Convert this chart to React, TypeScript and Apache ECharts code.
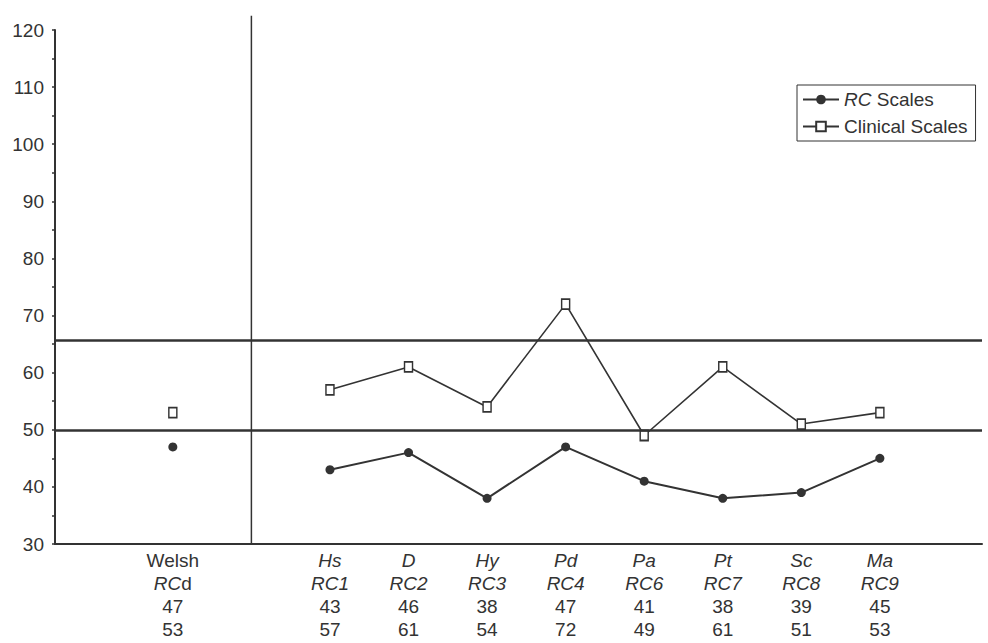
import React, { useEffect, useRef } from "react";
import * as echarts from "echarts";

// ---- data ----
const scaleNames = ["Welsh", "Hs", "D", "Hy", "Pd", "Pa", "Pt", "Sc", "Ma"];
const rcCodes = ["RCd", "RC1", "RC2", "RC3", "RC4", "RC6", "RC7", "RC8", "RC9"];
const rcScores = [47, 43, 46, 38, 47, 41, 38, 39, 45];
const clinicalScores = [53, 57, 61, 54, 72, 49, 61, 51, 53];
const yTickValues = [30, 40, 50, 60, 70, 80, 90, 100, 110, 120];
const cutoffLines = [50, 65.7];
const seriesNames = ["RC Scales", "Clinical Scales"];

// slot on the x value axis: Welsh sits left of the divider (0), the rest at 1..8
const slotOf = (i: number) => (i === 0 ? -1 : i);
const slots = scaleNames.map((_, i) => slotOf(i));

const INK = "#333";
const FONT = "Liberation Sans, Arial, sans-serif";

function buildSeriesData(values: number[]) {
  const out: any[] = [];
  values.forEach((v, i) => {
    out.push([slotOf(i), v]);
    if (i === 0) out.push([0, "-"]);
  });
  return out;
}

function labelFor(value: number) {
  const i = slots.indexOf(value);
  if (i < 0) return "";
  const name = i === 0 ? scaleNames[i] : `{it|${scaleNames[i]}}`;
  const code = rcCodes[i];
  const codeTxt = code === "RCd" ? "{it|RC}d" : `{it|${code}}`;
  return `${name}\n${codeTxt}\n${rcScores[i]}\n${clinicalScores[i]}`;
}

export default function App() {
  const ref = useRef<HTMLDivElement>(null);
  useEffect(() => {
    if (!ref.current) return;
    const chart = echarts.init(ref.current, null, { renderer: "svg" });
    const option: any = {
      animation: false,
      backgroundColor: "#fff",
      textStyle: { fontFamily: FONT },
      grid: { left: 55, top: 30, right: 6, bottom: 99, containLabel: false },
      legend: {
        data: seriesNames,
        orient: "vertical",
        left: 797,
        top: 85,
        borderColor: INK,
        borderWidth: 1,
        padding: [5, 8, 5, 5],
        itemGap: 8,
        itemWidth: 36,
        itemHeight: 12,
        textStyle: {
          fontSize: 19,
          color: INK,
          fontFamily: FONT,
          rich: { it: { fontStyle: "italic", fontSize: 19, color: INK, fontFamily: FONT } },
        },
        formatter: (name: string) => (name === "RC Scales" ? "{it|RC} Scales" : name),
      },
      xAxis: {
        type: "value",
        min: -2.5,
        max: 9.3,
        axisLine: { show: true, onZero: false, lineStyle: { color: INK, width: 2 } },
        axisTick: { show: false },
        splitLine: { show: false },
        axisLabel: {
          customValues: slots,
          formatter: (v: number) => labelFor(v),
          fontSize: 19,
          lineHeight: 23,
          color: INK,
          margin: 5,
          fontFamily: FONT,
          rich: {
            it: { fontStyle: "italic", fontSize: 19, lineHeight: 23, color: INK, fontFamily: FONT },
          },
        },
      },
      yAxis: {
        type: "value",
        min: 30,
        max: 120,
        interval: 10,
        axisLine: { show: true, onZero: false, lineStyle: { color: INK, width: 2 } },
        axisTick: { show: true, length: 3, lineStyle: { color: INK, width: 1.5 } },
        minorTick: { show: true, splitNumber: 2, length: 3, lineStyle: { color: INK, width: 1.5 } },
        splitLine: { show: false },
        axisLabel: {
          customValues: yTickValues,
          fontSize: 19,
          color: INK,
          margin: 11,
          fontFamily: FONT,
        },
      },
      series: [
        {
          name: seriesNames[0],
          type: "line",
          data: buildSeriesData(rcScores),
          connectNulls: false,
          symbol: "circle",
          symbolSize: 9,
          itemStyle: { color: INK },
          lineStyle: { color: INK, width: 2 },
          markLine: {
            silent: true,
            symbol: "none",
            label: { show: false },
            lineStyle: { color: INK, width: 2.5, type: "solid" },
            data: cutoffLines.map((y) => ({ yAxis: y })),
          },
          z: 3,
        },
        {
          name: seriesNames[1],
          type: "line",
          data: buildSeriesData(clinicalScores),
          connectNulls: false,
          symbol: "rect",
          symbolSize: [8, 10],
          itemStyle: { color: "#fff", borderColor: INK, borderWidth: 1.6 },
          lineStyle: { color: INK, width: 1.6 },
          z: 4,
        },
      ],
    };
    chart.setOption(option);
    // divider between Welsh and the RC scales, extending a little above the plot
    const p0 = chart.convertToPixel({ gridIndex: 0 }, [0, 30]) as number[];
    const p1 = chart.convertToPixel({ gridIndex: 0 }, [0, 122.5]) as number[];
    chart.setOption({
      graphic: [
        {
          type: "line",
          shape: { x1: p0[0], y1: p0[1], x2: p1[0], y2: p1[1] },
          style: { stroke: INK, lineWidth: 1.5 },
          silent: true,
          z: 1,
        },
      ],
    });
    return () => chart.dispose();
  }, []);
  return (
    <div
      ref={ref}
      style={{ position: "fixed", left: 0, top: 0, width: 988, height: 643, background: "#fff" }}
    />
  );
}
